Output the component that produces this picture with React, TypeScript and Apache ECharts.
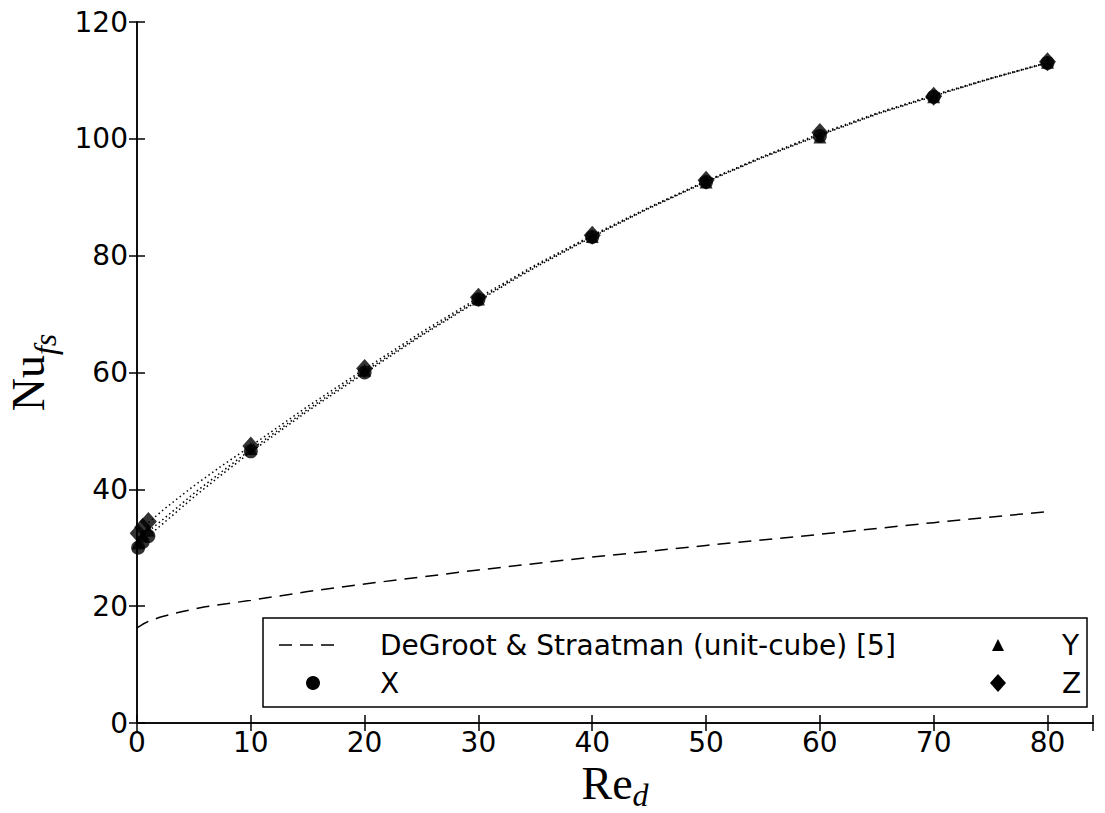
import React, { useEffect, useRef } from "react";
import * as echarts from "echarts";

const reX = [0.1, 0.5, 1, 10, 20, 30, 40, 50, 60, 70, 80];
const nuX = [30.0, 31.0, 32.0, 46.5, 60.0, 72.5, 83.2, 92.6, 100.5, 107.2, 113.0];
const reY = [0.1, 0.5, 1, 10, 20, 30, 40, 50, 60, 70, 80];
const nuY = [30.8, 32.0, 33.0, 47.0, 60.4, 72.6, 83.3, 92.6, 100.3, 107.2, 113.1];
const reZ = [0.1, 0.5, 1, 10, 20, 30, 40, 50, 60, 70, 80];
const nuZ = [32.5, 33.5, 34.5, 47.4, 60.7, 72.9, 83.5, 92.9, 101.1, 107.3, 113.2];

// fitted curves (dotted)
const reFit = [1, 2.5, 5, 7.5, 10, 15, 20, 25, 30, 35, 40, 45, 50, 55, 60, 65, 70, 75, 80];
const nuFitX = [32.0, 34.5, 38.7, 42.6, 46.4, 53.4, 59.9, 66.3, 72.3, 78.0, 83.2, 88.1, 92.6, 96.8, 100.6, 104.2, 107.3, 110.3, 113.0];
const nuFitY = [32.8, 35.2, 39.3, 43.1, 46.8, 53.7, 60.2, 66.5, 72.5, 78.2, 83.3, 88.2, 92.7, 96.9, 100.7, 104.3, 107.4, 110.3, 113.0];
const nuFitZ = [34.3, 36.8, 40.6, 44.1, 47.4, 54.2, 60.6, 66.9, 72.8, 78.4, 83.5, 88.3, 92.8, 97.0, 100.9, 104.4, 107.5, 110.4, 113.1];

const reDG = [0, 0.5, 1, 2, 4, 6, 10, 15, 20, 30, 40, 50, 60, 70, 80];
const nuDG = [16.3, 16.9, 17.4, 18.1, 19.1, 19.9, 21.0, 22.5, 23.8, 26.2, 28.4, 30.4, 32.3, 34.3, 36.2];

const xTicks = [0, 10, 20, 30, 40, 50, 60, 70, 80];
const yTicks = [0, 20, 40, 60, 80, 100, 120];

const legendDG = "DeGroot & Straatman (unit-cube) [5]";
const legendX = "X";
const legendY = "Y";
const legendZ = "Z";

const pairs = (xs: number[], ys: number[]) => xs.map((x, i) => [x, ys[i]]);

export default function App() {
  const ref = useRef<HTMLDivElement>(null);
  useEffect(() => {
    if (!ref.current) return;
    const chart = echarts.init(ref.current, undefined, { renderer: "svg" });
    const tickFont = { fontFamily: "DejaVu Sans", fontSize: 28, color: "#000" };
    const lineStyle = { color: "#000", width: 1.5 };
    const hiddenLabel = { show: false };
    const titleRich = (lh: number) => ({
      a: { fontFamily: "Liberation Serif", fontSize: 46, color: "#000", lineHeight: lh, verticalAlign: "top" },
      b: { fontFamily: "Liberation Serif", fontStyle: "italic", fontSize: 32, color: "#000", lineHeight: lh, verticalAlign: "bottom" },
    });
    const fitLine = (name: string, ys: number[]) => ({
      name,
      type: "line",
      data: pairs(reFit, ys),
      showSymbol: false,
      smooth: false,
      clip: true,
      lineStyle: { color: "#000", width: 1.5, type: [1.5, 3] },
      z: 2,
    });
    const legendText = (text: string, x: number, y: number) => ({
      type: "text",
      x,
      y,
      style: { text, fontFamily: "DejaVu Sans", fontSize: 28, fill: "#000", verticalAlign: "middle", align: "left" },
    });
    const option: any = {
      animation: false,
      backgroundColor: "#fff",
      grid: { left: 137, top: 22, right: 12, bottom: 90, containLabel: false, outerBoundsMode: "none" },
      xAxis: [
        {
          type: "value",
          min: 0,
          max: 84,
          interval: 10,
          position: "bottom",
          axisLine: { show: true, lineStyle },
          axisTick: { show: true, inside: true, length: 8, lineStyle },
          axisLabel: {
            ...tickFont,
            margin: 5,
            formatter: (v: number) => (xTicks.includes(v) ? String(v) : ""),
          },
          splitLine: { show: false },
          name: "{a|Re}{b|d}",
          nameLocation: "middle",
          nameGap: 33,
          nameTextStyle: { rich: titleRich(50) },
        },
        {
          type: "value",
          min: 0,
          max: 84,
          interval: 10,
          position: "top",
          axisLine: { show: true, lineStyle },
          axisTick: { show: true, inside: true, length: 8, lineStyle },
          axisLabel: hiddenLabel,
          splitLine: { show: false },
        },
      ],
      yAxis: [
        {
          type: "value",
          min: 0,
          max: 120,
          interval: 20,
          position: "left",
          axisLine: { show: true, lineStyle },
          axisTick: { show: true, inside: true, length: 8, lineStyle },
          axisLabel: {
            ...tickFont,
            margin: 9,
            formatter: (v: number) => (yTicks.includes(v) ? String(v) : ""),
          },
          splitLine: { show: false },
          name: "{a|Nu}{b|fs}",
          nameLocation: "middle",
          nameGap: 76,
          nameRotate: 90,
          nameTextStyle: { rich: titleRich(56) },
        },
        {
          type: "value",
          min: 0,
          max: 120,
          interval: 20,
          position: "right",
          axisLine: { show: true, lineStyle },
          axisTick: { show: true, inside: true, length: 8, lineStyle },
          axisLabel: hiddenLabel,
          splitLine: { show: false },
        },
      ],
      series: [
        {
          name: legendDG,
          type: "line",
          data: pairs(reDG, nuDG),
          showSymbol: false,
          smooth: false,
          clip: true,
          lineStyle: { color: "#000", width: 1.5, type: [13, 8] },
          z: 2,
        },
        fitLine("fit X", nuFitX),
        fitLine("fit Y", nuFitY),
        fitLine("fit Z", nuFitZ),
        {
          name: legendX,
          type: "scatter",
          data: pairs(reX, nuX),
          symbol: "circle",
          symbolSize: 14,
          clip: true,
          itemStyle: { color: "#000" },
          z: 3,
        },
        {
          name: legendY,
          type: "scatter",
          data: pairs(reY, nuY),
          symbol: "triangle",
          symbolSize: 13,
          clip: true,
          itemStyle: { color: "#000" },
          z: 3,
        },
        {
          name: legendZ,
          type: "scatter",
          data: pairs(reZ, nuZ),
          symbol: "diamond",
          symbolSize: [17, 19],
          clip: true,
          itemStyle: { color: "#000" },
          z: 3,
        },
      ],
      graphic: [
        {
          type: "group",
          z: 100,
          children: [
            {
              type: "rect",
              shape: { x: 263, y: 618, width: 824, height: 89 },
              style: { fill: "#fff", stroke: "#000", lineWidth: 1.5 },
            },
            {
              type: "line",
              shape: { x1: 279, y1: 645, x2: 340, y2: 645 },
              style: { stroke: "#000", lineWidth: 1.5, lineDash: [13, 8] },
            },
            legendText(legendDG, 380, 645),
            {
              type: "circle",
              shape: { cx: 313, cy: 683, r: 7 },
              style: { fill: "#000" },
            },
            legendText(legendX, 380, 683),
            {
              type: "polygon",
              shape: { points: [[998, 639], [1004, 651], [992, 651]] },
              style: { fill: "#000" },
            },
            legendText(legendY, 1062, 645),
            {
              type: "polygon",
              shape: { points: [[998, 674], [1006, 683], [998, 692], [990, 683]] },
              style: { fill: "#000" },
            },
            legendText(legendZ, 1062, 683),
          ],
        },
      ],
    };
    chart.setOption(option);
    return () => chart.dispose();
  }, []);
  return (
    <div
      ref={ref}
      style={{ position: "fixed", left: 0, top: 0, width: 1105, height: 813, background: "#fff" }}
    />
  );
}
